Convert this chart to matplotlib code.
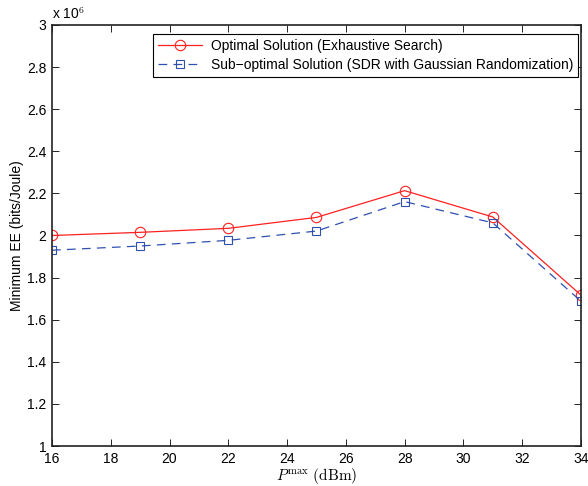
import numpy as np
import matplotlib
matplotlib.use("Agg")
import matplotlib.pyplot as plt

plt.rcParams['font.family'] = ['Liberation Sans', 'DejaVu Sans']
plt.rcParams['mathtext.fontset'] = 'cm'

# data (EE in bits/Joule, scaled by 1e6)
p_max = [16, 19, 22, 25, 28, 31, 34]
optimal = [2.00, 2.015, 2.034, 2.086, 2.213, 2.088, 1.717]
suboptimal = [1.93, 1.95, 1.977, 2.021, 2.161, 2.06, 1.688]

fig = plt.figure(figsize=(5.88, 4.86), dpi=100)
ax = fig.add_axes([0.0884, 0.0823, 0.8996, 0.8663])

ax.plot(p_max, optimal, color='#ff2020', lw=0.9, marker='o', ms=7.5,
        mfc='none', mec='#ff2020', mew=0.8,
        label='Optimal Solution (Exhaustive Search)')
ax.plot(p_max, suboptimal, color='#3050b0', lw=0.9, ls=(0, (7, 5)), marker='s', ms=6,
        mfc='none', mec='#3050b0', mew=0.8,
        label='Sub\u2212optimal Solution (SDR with Gaussian Randomization)')

ax.set_xlim(16, 34)
ax.set_ylim(1, 3)
ax.set_xticks(np.arange(16, 35, 2))
ax.set_yticks(np.arange(1, 3.01, 0.2))
ax.set_yticklabels(['1', '1.2', '1.4', '1.6', '1.8', '2', '2.2', '2.4', '2.6', '2.8', '3'])
ax.tick_params(direction='in', top=True, right=True, labelsize=10, length=5, width=0.6, pad=4)
for s in ax.spines.values():
    s.set_linewidth(1.2)
    s.set_color('#222222')

ax.text(0.0, 1.006, r'x 10$^{6}$', transform=ax.transAxes, fontsize=10, va='bottom')

ax.set_xlabel(r'$P^{\max}\ \mathrm{(dBm)}$', fontsize=11, labelpad=0)
ax.set_ylabel('Minimum EE (bits/Joule)', fontsize=10, labelpad=2)

leg = ax.legend(loc='upper right', bbox_to_anchor=(0.994, 0.979), borderaxespad=0,
                fontsize=10, fancybox=False, framealpha=1, edgecolor='black',
                handlelength=3.2, borderpad=0.35, labelspacing=0.4, numpoints=1,
                handletextpad=0.6)
leg.get_frame().set_linewidth(0.8)

fig.savefig('out.png', dpi=100)
